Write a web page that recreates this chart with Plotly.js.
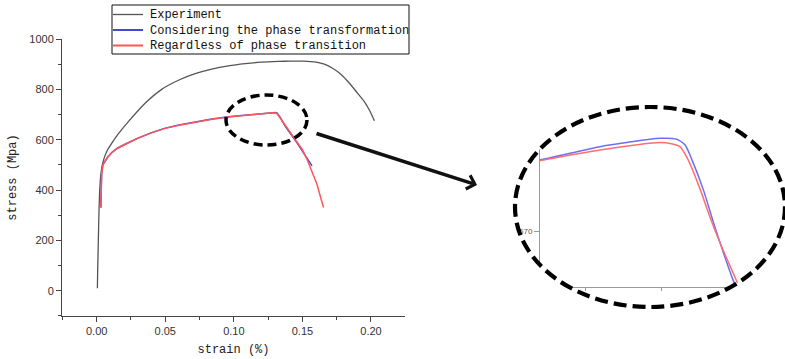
<!DOCTYPE html>
<html>
<head>
<meta charset="utf-8">
<script src="https://cdn.plot.ly/plotly-3.0.1.min.js"></script>
<style>html,body{margin:0;padding:0;background:#fff;}#chart{width:785px;height:359px;}</style>
</head>
<body>
<div id="chart"></div>
<script>
// ---- Data ----
const seriesNames = ["Experiment", "Considering the phase transformation", "Regardless of phase transition"];

const strainExp = [0.0005,0.0008,0.0012,0.0016,0.0022,0.0030,0.0045,0.0075,0.0115,0.0160,0.0231,0.0353,0.0474,0.0596,0.0718,0.0839,0.0960,0.1083,0.1200,0.1326,0.1410,0.1506,0.1600,0.1660,0.1720,0.1780,0.1840,0.1900,0.1950,0.1990,0.2025];
const stressExp = [10,100,200,300,400,460,510,555,590,625,672,745,800,836,862,880,893,902,908,911,912,912,908,900,884,860,826,786,752,716,675];

const strainPT = [0.0030,0.0033,0.0036,0.0045,0.0060,0.0080,0.0110,0.0150,0.0210,0.0300,0.0400,0.0500,0.0600,0.0720,0.0840,0.0960,0.1045,0.1125,0.1204,0.1283,0.1305,0.1316,0.1325,0.1340,0.1353,0.1366,0.1379,0.1450,0.1510,0.1570];
const stressPT = [330,400,465,500,515,531,549,566,583,606,628,646,658,671,682,691,696,699.8,705.3,708.8,708.4,706,699.8,687.3,673.9,661.4,649.8,596,548,496];

const strainNoPT = [0.0030,0.0033,0.0036,0.0045,0.0060,0.0080,0.0110,0.0150,0.0210,0.0300,0.0400,0.0500,0.0600,0.0720,0.0840,0.0960,0.1045,0.1125,0.1204,0.1283,0.1298,0.1309,0.1320,0.1336,0.1351,0.1367,0.1382,0.1447,0.1500,0.1533,0.1570,0.1606,0.1630,0.1654];
const stressNoPT = [330,400,465,500,515,530,548,565,582,605,627,645,657,670,681,690,695,699.5,703.9,707.0,706.5,705.3,699.8,687.3,673.9,661.4,650.6,603,560,523,476,423,376,330];

const xTickVals = [0, 0.05, 0.10, 0.15, 0.20];
const xTickText = ["0.00", "0.05", "0.10", "0.15", "0.20"];
const yTickVals = [0, 200, 400, 600, 800, 1000];
const insetYTick = [670];

// ---- Layout helpers (pixel -> paper) ----
const L = 62, T = 39, W = 723, H = 277;
const fx = p => (p - L) / W;
const fy = p => (T + H - p) / H;

const colExp = '#555555', colPT = '#4646dc', colNoPT = '#ff5555';
const insPT = '#6e6ef0', insNoPT = '#ff6e6e';

const traces = [
  {x: strainExp, y: stressExp, mode: 'lines', line: {color: colExp, width: 1.3, shape: 'spline', smoothing: 0.5}, xaxis: 'x', yaxis: 'y', name: seriesNames[0]},
  {x: strainPT, y: stressPT, mode: 'lines', line: {color: colPT, width: 1.5}, xaxis: 'x', yaxis: 'y', name: seriesNames[1]},
  {x: strainNoPT, y: stressNoPT, mode: 'lines', line: {color: colNoPT, width: 1.5}, xaxis: 'x', yaxis: 'y', name: seriesNames[2]},
  {x: strainPT, y: stressPT, mode: 'lines', line: {color: insPT, width: 1.5, shape: 'spline', smoothing: 0.6}, xaxis: 'x2', yaxis: 'y2', name: seriesNames[1]},
  {x: strainNoPT, y: stressNoPT, mode: 'lines', line: {color: insNoPT, width: 1.5, shape: 'spline', smoothing: 0.6}, xaxis: 'x2', yaxis: 'y2', name: seriesNames[2]}
];

// ellipse path (for mask) in paper coords
function ellipsePath(cxp, cyp, rxp, ryp) {
  const cx = fx(cxp), cy = fy(cyp), rx = rxp / W, ry = ryp / H, k = 0.5523;
  const kx = rx * k, ky = ry * k;
  return `M${cx+rx},${cy} C${cx+rx},${cy+ky} ${cx+kx},${cy+ry} ${cx},${cy+ry} ` +
         `C${cx-kx},${cy+ry} ${cx-rx},${cy+ky} ${cx-rx},${cy} ` +
         `C${cx-rx},${cy-ky} ${cx-kx},${cy-ry} ${cx},${cy-ry} ` +
         `C${cx+kx},${cy-ry} ${cx+rx},${cy-ky} ${cx+rx},${cy} Z`;
}
const bigC = {cx: 650, cy: 207, rx: 135, ry: 100};
const rect = `M${fx(495)},${fy(92)} L${fx(800)},${fy(92)} L${fx(800)},${fy(335)} L${fx(495)},${fy(335)} Z `;

const legendFont = {family: 'Liberation Mono, DejaVu Sans Mono, monospace', size: 12, color: '#111'};
const legendRows = [15, 30.5, 46];
const legendCols = [colExp, colPT, colNoPT];

const shapes = [
  // mask outside the zoom ellipse
  {type: 'path', xref: 'paper', yref: 'paper', path: rect + ellipsePath(bigC.cx, bigC.cy, bigC.rx, bigC.ry),
   fillcolor: '#ffffff', fillrule: 'evenodd', line: {width: 0}, layer: 'above'},
  // big dashed ellipse
  {type: 'circle', xref: 'paper', yref: 'paper', x0: fx(bigC.cx - bigC.rx), x1: fx(bigC.cx + bigC.rx), y0: fy(bigC.cy + bigC.ry), y1: fy(bigC.cy - bigC.ry),
   line: {color: '#000', width: 4.2, dash: '13px,6px'}, layer: 'above'},
  // small dashed ellipse
  {type: 'circle', xref: 'paper', yref: 'paper', x0: fx(226), x1: fx(307), y0: fy(145), y1: fy(95),
   line: {color: '#000', width: 3.5, dash: '9px,5px'}, layer: 'above'},
  // legend box
  {type: 'rect', xref: 'paper', yref: 'paper', x0: fx(112), x1: fx(409), y0: fy(54), y1: fy(5),
   line: {color: '#111', width: 1}, fillcolor: 'rgba(255,255,255,0)', layer: 'above'}
];
legendRows.forEach((r, i) => {
  shapes.push({type: 'line', xref: 'paper', yref: 'paper', x0: fx(113), x1: fx(143), y0: fy(r - 0.5), y1: fy(r - 0.5),
    line: {color: legendCols[i], width: i === 0 ? 1.3 : 2}, layer: 'above'});
});

const annotations = legendRows.map((r, i) => ({
  xref: 'paper', yref: 'paper', x: fx(148), y: fy(r), xanchor: 'left', yanchor: 'middle',
  text: seriesNames[i], showarrow: false, font: legendFont
}));
annotations.push({
  xref: 'paper', yref: 'paper', x: fx(477), y: fy(185), text: '', showarrow: true,
  ax: 315 - 477, ay: 133 - 185, arrowhead: 4, arrowsize: 0.8, arrowwidth: 3.5, arrowcolor: '#111'
});

const tickFont = {family: 'Liberation Sans, Arial, sans-serif', size: 11, color: '#333'};
const titleFont = {family: 'Liberation Mono, DejaVu Sans Mono, monospace', size: 12, color: '#222'};

const layout = {
  width: 785, height: 359,
  margin: {l: L, r: 785 - L - W, t: T, b: 359 - T - H},
  paper_bgcolor: '#fff', plot_bgcolor: 'rgba(0,0,0,0)',
  showlegend: false,
  xaxis: {
    domain: [0, fx(405)], range: [-0.0253, 0.2248], anchor: 'y',
    showline: true, linecolor: '#444', linewidth: 1, showgrid: false, zeroline: false,
    ticks: 'outside', ticklen: 5, tickcolor: '#444', tickvals: xTickVals, ticktext: xTickText,
    minor: {ticks: 'outside', ticklen: 3, tickcolor: '#444', dtick: 0.025, tick0: 0, showgrid: false},
    tickfont: tickFont,
    title: {text: 'strain (%)', font: titleFont, standoff: 8}
  },
  yaxis: {
    domain: [0, 1], range: [-100.5, 1000], anchor: 'x',
    showline: true, linecolor: '#444', linewidth: 1, showgrid: false, zeroline: false,
    ticks: 'outside', ticklen: 5, tickcolor: '#444', tickvals: yTickVals,
    minor: {ticks: 'outside', ticklen: 3, tickcolor: '#444', dtick: 100, tick0: 0, showgrid: false},
    tickfont: tickFont,
    title: {text: 'stress (Mpa)', font: titleFont, standoff: 10}
  },
  xaxis2: {
    domain: [fx(540), fx(760)], range: [0.1125, 0.1125 + 220 / 7600], anchor: 'y2',
    showline: true, linecolor: '#999', linewidth: 1, showgrid: false, zeroline: false,
    ticks: 'outside', ticklen: 3, tickcolor: '#999', dtick: 0.01, tick0: 0.0085, showticklabels: false
  },
  yaxis2: {
    domain: [fy(287), fy(120)], range: [706 - 142 / 2.4, 706 + 25 / 2.4], anchor: 'x2',
    showline: true, linecolor: '#999', linewidth: 1, showgrid: false, zeroline: false,
    ticks: 'outside', ticklen: 5, tickcolor: '#999', tickvals: insetYTick,
    tickfont: {family: 'Liberation Sans, Arial, sans-serif', size: 8, color: '#555'}
  },
  shapes: shapes,
  annotations: annotations
};

Plotly.newPlot('chart', traces, layout, {displayModeBar: false, staticPlot: true});
</script>
</body>
</html>
